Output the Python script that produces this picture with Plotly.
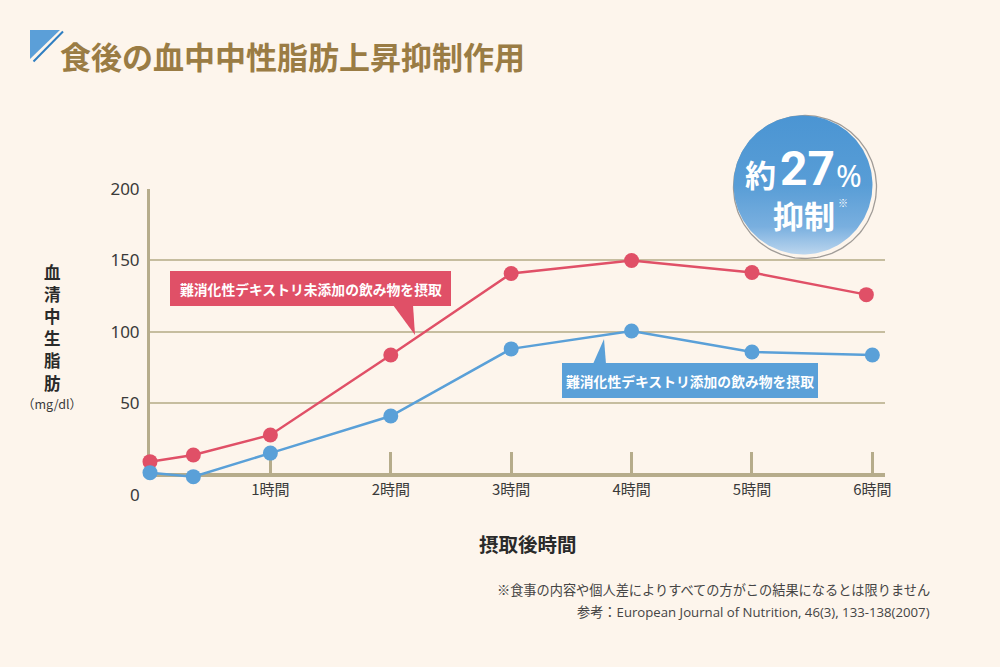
import numpy as np
import plotly.graph_objects as go

W, H = 1000, 667

# ---- data ----
hours_red = [0, 0.36, 1, 2, 3, 4, 5, 5.95]
serum_red = [9, 13.7, 27.7, 83.7, 140.8, 149.9, 141.5, 126]
hours_blue = [0, 0.36, 1, 2, 3, 4, 5, 6]
serum_blue = [1.3, -1.5, 15, 41, 88, 100.5, 85.8, 83.7]
x_ticks = [1, 2, 3, 4, 5, 6]
x_tick_labels = ["1時間", "2時間", "3時間", "4時間", "5時間", "6時間"]
y_ticks = [50, 100, 150, 200]
y_tick_labels = ["50", "100", "150", "200"]

title_text = "食後の血中中性脂肪上昇抑制作用"
label_red = "難消化性デキストリ未添加の飲み物を摂取"
label_blue = "難消化性デキストリ添加の飲み物を摂取"
y_title_chars = ["血", "清", "中", "生", "脂", "肪"]
y_unit = "（mg/dl）"
x_title = "摂取後時間"
note1 = "※食事の内容や個人差によりすべての方がこの結果になるとは限りません"
note2 = "参考：European Journal of Nutrition, 46(3), 133-138(2007)"

# ---- styles ----
BG = "#fdf5ec"
GRID = "#c6bd9f"
AXIS = "#b6ac8b"
RED = "#e05067"
BLUE = "#5aa0d8"
TITLE = "#9a7c44"
TEXT = "#3a3a3a"
JP = "Noto Sans CJK JP"

# pixel geometry of the plot area
PX_LEFT, PX_RIGHT = 150, 885
PX_Y0, PX_Y200 = 474.5, 189
Y_MIN = -3  # a little room below zero so the sub-zero marker stays visible
px_per_unit = (PX_Y0 - PX_Y200) / 200
px_bottom = PX_Y0 - Y_MIN * px_per_unit

fig = go.Figure()

fig.add_trace(go.Scatter(
    x=hours_red, y=serum_red, mode="lines+markers",
    line=dict(color=RED, width=2.5), marker=dict(color=RED, size=15),
    cliponaxis=False, showlegend=False, hoverinfo="skip"))
fig.add_trace(go.Scatter(
    x=hours_blue, y=serum_blue, mode="lines+markers",
    line=dict(color=BLUE, width=2.5), marker=dict(color=BLUE, size=15),
    cliponaxis=False, showlegend=False, hoverinfo="skip"))

# ---- decorative bubble in pixel overlay axes ----
t = np.linspace(0, 2 * np.pi, 181)
cx, cy, r = 803, 185, 69.5
fig.add_trace(go.Scatter(
    x=805 + 71.5 * np.cos(t), y=187 + 71.5 * np.sin(t), mode="lines",
    line=dict(color="#a09c98", width=1.3), xaxis="x2", yaxis="y2",
    showlegend=False, hoverinfo="skip"))
fig.add_trace(go.Scatter(
    x=cx + r * np.cos(t), y=cy + r * np.sin(t), mode="lines",
    fill="toself", line=dict(width=0, color="rgba(0,0,0,0)"),
    fillgradient=dict(type="vertical", start=cy - r, stop=cy + r,
                      colorscale=[[0, "#4b95d3"], [0.5, "#589dd6"],
                                  [0.8, "#79afdf"], [1, "#bcd6ee"]]),
    xaxis="x2", yaxis="y2", showlegend=False, hoverinfo="skip"))

shapes = [
    # title icon
    dict(type="path", path="M30,30 L60,30 L30,59 Z", xref="x2", yref="y2",
         fillcolor="#5b9fd8", line=dict(width=0)),
    dict(type="line", x0=63, y0=31.5, x1=33.5, y1=61.5, xref="x2", yref="y2",
         line=dict(color="#2f7ec1", width=2)),
    # red callout
    dict(type="rect", x0=170, y0=271, x1=451, y1=306, xref="x2", yref="y2",
         fillcolor=RED, line=dict(width=0), layer="above"),
    dict(type="path", path="M393,305 L413,305 L415,335 Z", xref="x2", yref="y2",
         fillcolor=RED, line=dict(width=0), layer="above"),
    # blue callout
    dict(type="rect", x0=562, y0=363, x1=818, y1=398, xref="x2", yref="y2",
         fillcolor=BLUE, line=dict(width=0), layer="above"),
    dict(type="path", path="M593,364 L606,364 L604,339 Z", xref="x2", yref="y2",
         fillcolor=BLUE, line=dict(width=0), layer="above"),
]

def ann(text, x, y, size, color=TEXT, family=JP, xanchor="center", yanchor="middle"):
    return dict(text=text, x=x, y=y, xref="x2", yref="y2", showarrow=False,
                font=dict(size=size, color=color, family=family),
                xanchor=xanchor, yanchor=yanchor, borderpad=0)

annotations = [
    ann("<b>" + title_text + "</b>", 59, 55, 31, TITLE, xanchor="left"),
    ann(y_unit, 52, 403, 12.5, TEXT),
    ann("0", 135, 494, 17, TEXT, family="Noto Sans"),
    ann("<b>" + x_title + "</b>", 528, 543, 19.5, "#2a2a2a"),
    ann(note1, 931, 589, 13.2, "#444444", xanchor="right"),
    ann(note2, 931, 612, 13.2, "#444444", family="Open Sans, " + JP, xanchor="right"),
    ann("<b>" + label_red + "</b>", 310.5, 289, 13.8, "white"),
    ann("<b>" + label_blue + "</b>", 690, 381, 13.8, "white"),
    # bubble text
    ann("<b>約</b>", 760, 173, 31, "white"),
    ann("<b>27</b>", 807, 168, 48, "white", family="Roboto"),
    ann("%", 849, 175, 31, "white", family="Noto Sans"),
    ann("<b>抑制</b>", 804, 214, 31, "white"),
    ann("※", 843, 202, 10, "white"),
]
for i, ch in enumerate(y_title_chars):
    annotations.append(ann("<b>" + ch + "</b>", 52.5, 271.5 + 22.2 * i, 16.5, "#2a2a2a"))

fig.update_layout(
    width=W, height=H, autosize=False,
    margin=dict(l=0, r=0, t=0, b=0, pad=0, autoexpand=False),
    paper_bgcolor=BG, plot_bgcolor="rgba(0,0,0,0)",
    xaxis=dict(domain=[PX_LEFT / W, PX_RIGHT / W], range=[0, 6.105],
               anchor="free", position=1 - PX_Y0 / H,
               tickvals=x_ticks, ticktext=x_tick_labels,
               ticks="inside", ticklen=21, tickwidth=3, tickcolor=AXIS,
               showline=True, linewidth=4, linecolor=AXIS,
               showgrid=False, zeroline=False, automargin=False,
               layer="below traces",
               tickfont=dict(size=15, color=TEXT, family=JP),
               fixedrange=True),
    yaxis=dict(domain=[1 - px_bottom / H, 1 - PX_Y200 / H], range=[Y_MIN, 200],
               tickvals=y_ticks, ticktext=y_tick_labels,
               showline=True, linewidth=3, linecolor=AXIS,
               showgrid=True, gridcolor=GRID, gridwidth=2,
               zeroline=False, ticks="", ticklabelstandoff=4,
               automargin=False, layer="below traces",
               tickfont=dict(size=17, color=TEXT, family="Noto Sans"),
               fixedrange=True),
    xaxis2=dict(domain=[0, 1], range=[0, W], anchor="y2", visible=False,
                automargin=False, fixedrange=True),
    yaxis2=dict(domain=[0, 1], range=[H, 0], anchor="x2", visible=False,
                automargin=False, fixedrange=True),
    shapes=shapes,
    annotations=annotations,
)

fig.write_html("out.html", config={"displayModeBar": False},
               post_script="document.body.style.margin='0';document.body.style.overflow='hidden';")
